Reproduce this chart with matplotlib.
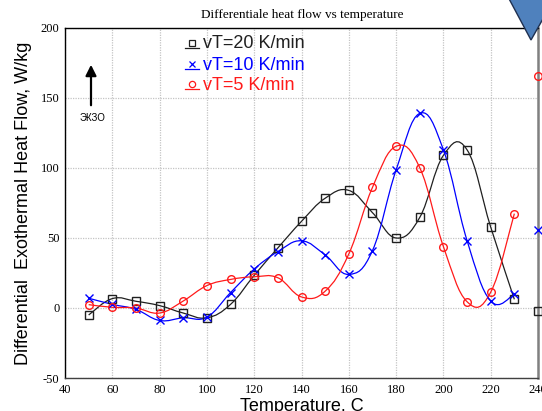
import matplotlib
matplotlib.use("Agg")
import matplotlib.pyplot as plt
from matplotlib.path import Path
from matplotlib.patches import PathPatch, Polygon
import numpy as np

plt.rcParams["axes.unicode_minus"] = False

# ---- data ----
temps = [50, 60, 70, 80, 90, 100, 110, 120, 130, 140, 150, 160, 170, 180, 190, 200, 210, 220, 230]
vt20 = [-5, 6.7, 4.8, 1.7, -3.6, -7.0, 2.6, 23.3, 42.9, 61.9, 78.4, 84.0, 68.1, 50.0, 64.7, 109.0, 113.0, 57.8, 6.2]
vt10 = [7.0, 2.6, -1.0, -8.9, -7.0, -6.5, 11.0, 27.8, 40.3, 48.0, 37.9, 24.0, 41.0, 98.6, 139.0, 113.0, 48.2, 5.0, 9.8]
vt5 = [2.4, 0.5, 0.0, -3.6, 5.0, 16.0, 20.4, 22.3, 21.6, 7.9, 12.0, 38.6, 86.1, 115.5, 100.2, 43.9, 4.5, 11.3, 67.4]
t_last = [240]
vt20_last = [-2.2]
vt10_last = [55.4]
vt5_last = [166.0]

labels = ["vT=20 K/min", "vT=10 K/min", "vT=5 K/min"]
xticks = [40, 60, 80, 100, 120, 140, 160, 180, 200, 220, 240]
yticks = [-50, 0, 50, 100, 150, 200]

W, H = 542, 411
fig = plt.figure(figsize=(W / 100, H / 100), dpi=100)
ax = fig.add_axes([65 / W, 1 - 378 / H, (538 - 65) / W, (378 - 28) / H])
ax.set_xlim(40, 240)
ax.set_ylim(-50, 200)


def smooth_path(xs, ys, k=6.0):
    xs = np.asarray(xs, float)
    ys = np.asarray(ys, float)
    pts = np.column_stack([xs, ys])
    n = len(pts)
    verts = [pts[0]]
    codes = [Path.MOVETO]
    for i in range(n - 1):
        p0 = pts[i - 1] if i > 0 else pts[i]
        p1 = pts[i]
        p2 = pts[i + 1]
        p3 = pts[i + 2] if i + 2 < n else pts[i + 1]
        c1 = p1 + (p2 - p0) / k
        c2 = p2 - (p3 - p1) / k
        verts += [c1, c2, p2]
        codes += [Path.CURVE4] * 3
    return Path(verts, codes)


series = [
    (vt20, vt20_last, "#202020", "s"),
    (vt10, vt10_last, "#0000ff", "x"),
    (vt5, vt5_last, "#ff1a1a", "o"),
]

for ys, ylast, col, mk in series:
    patch = PathPatch(smooth_path(temps, ys, 5.0), facecolor="none", edgecolor=col,
                      linewidth=0.9, transform=ax.transData, zorder=3)
    ax.add_patch(patch)
    ms = 5.5 if mk != "x" else 6
    ax.plot(temps, ys, linestyle="none", marker=mk, markersize=ms,
            markerfacecolor="none", markeredgecolor=col, markeredgewidth=1.0, zorder=4)
    ax.plot(t_last, ylast, linestyle="none", marker=mk, markersize=ms,
            markerfacecolor="none", markeredgecolor=col, markeredgewidth=1.0,
            zorder=4, clip_on=False)

# grid
ax.set_xticks(xticks)
ax.set_yticks(yticks)
ax.grid(True, color="#c4c4c4", linestyle=(0, (1, 1)), linewidth=0.9)
ax.set_axisbelow(True)
ax.tick_params(length=0, labelsize=9, pad=4)
for lab in ax.get_xticklabels() + ax.get_yticklabels():
    lab.set_fontfamily("Liberation Serif")
for s in ["left", "top", "bottom"]:
    ax.spines[s].set_color("black")
    ax.spines[s].set_linewidth(1.0)
ax.spines["bottom"].set_color("#404040")
ax.spines["right"].set_color("#808080")
ax.spines["right"].set_linewidth(1.8)

ax.set_xlabel("Temperature, C", fontsize=13, fontfamily="Liberation Sans", labelpad=2)
ax.set_ylabel("Differential  Exothermal Heat Flow, W/kg", fontsize=13,
              fontfamily="Liberation Sans", labelpad=6)
fig.text(302 / W, 1 - 15 / H, "Differentiale heat flow vs temperature",
         fontsize=9.5, fontfamily="Liberation Serif", ha="center", va="center")

# legend (manual)
def fx(px):
    return px / W


def fy(py):
    return 1 - py / H


rows = [44, 65, 85]
for (ys, ylast, col, mk), lab, ry in zip(series, labels, rows):
    fig.lines.append(plt.Line2D([fx(192)], [fy(ry - 1)], marker=mk, markersize=4.5,
                                markerfacecolor="none", markeredgecolor=col,
                                markeredgewidth=0.9, linestyle="none",
                                transform=fig.transFigure))
    fig.lines.append(plt.Line2D([fx(185), fx(199)], [fy(ry + 4), fy(ry + 4)],
                                color=col, linewidth=0.9, transform=fig.transFigure))
    fig.text(fx(203), fy(ry), lab, color=col, fontsize=13,
             fontfamily="Liberation Sans", ha="left", va="center")

# exo arrow
ax.annotate("", xy=(fx(91), fy(62)), xycoords="figure fraction",
            xytext=(fx(91), fy(108)), textcoords="figure fraction",
            arrowprops=dict(arrowstyle="-|>", color="black", lw=1.6,
                            mutation_scale=16))
fig.text(fx(92), fy(118), "ЭКЗО", fontsize=7, fontfamily="Liberation Sans",
         ha="center", va="center")

# decorative blue down arrow (top right)
arrow_px = [(499, -20), (565, -20), (531, 40)]
arrow = Polygon([(fx(x), fy(y)) for x, y in arrow_px], closed=True,
                facecolor="#4f81bd", edgecolor="#1f3050", linewidth=1.0,
                transform=fig.transFigure, clip_on=False)
fig.patches.append(arrow)

fig.savefig("out.png", dpi=100)
